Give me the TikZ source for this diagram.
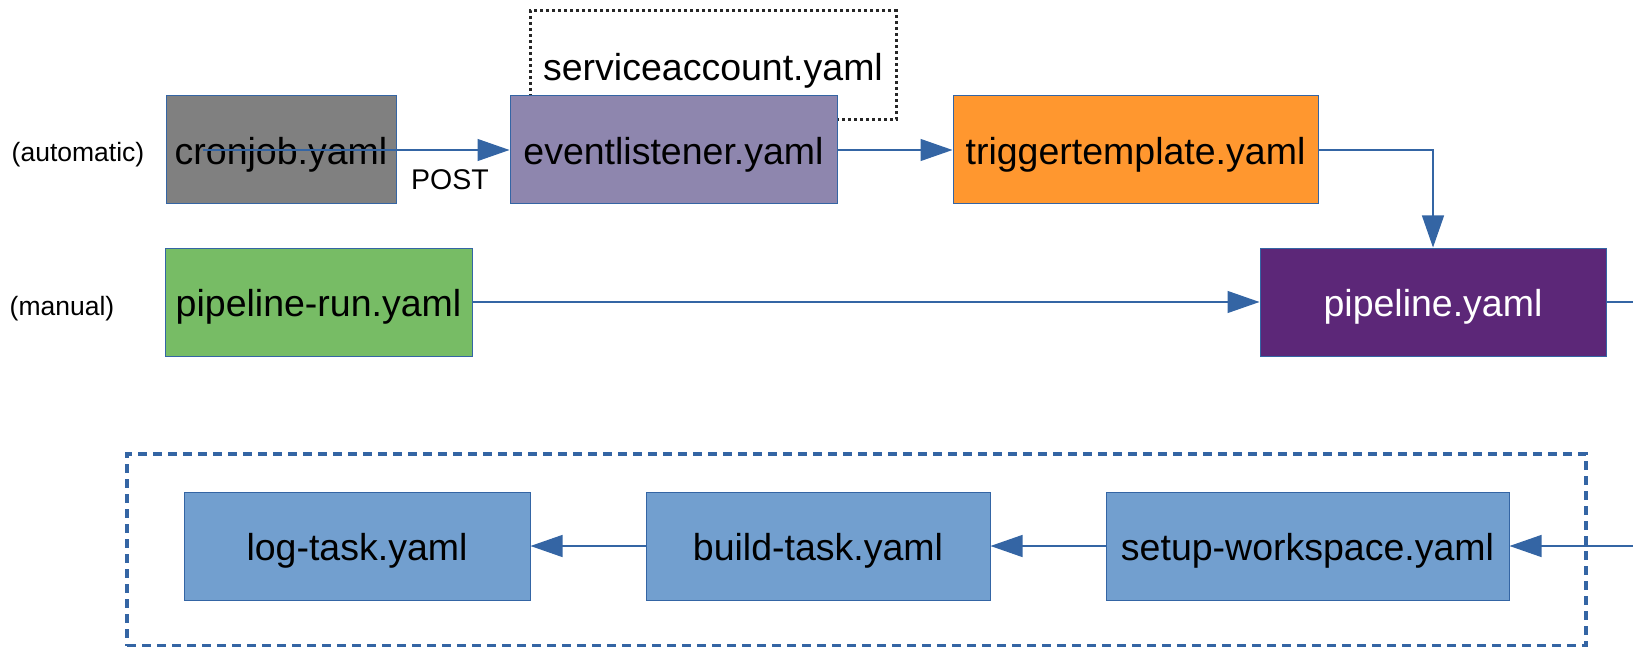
\documentclass[tikz,border=0pt]{standalone}
\usepackage{fontspec}
\setmainfont{Liberation Sans}
\usetikzlibrary{arrows.meta}
\definecolor{lineblue}{HTML}{3465A4}
\definecolor{cronfill}{HTML}{808080}
\definecolor{eventfill}{HTML}{8E86AE}
\definecolor{triggerfill}{HTML}{FF972F}
\definecolor{runfill}{HTML}{77BC65}
\definecolor{pipefill}{HTML}{5C2778}
\definecolor{taskfill}{HTML}{729FCF}
\tikzset{
  bigtext/.style={font=\fontsize{37.5}{40}\selectfont, text height=36.4pt, text depth=8pt},
  filebox/.style={bigtext, draw=lineblue, line width=1pt, inner sep=0pt, text=black},
  sidelabel/.style={font=\fontsize{26.5}{30}\selectfont, inner sep=0pt},
  flow/.style={draw=lineblue, line width=1.2pt,
    -{Triangle[length=32pt, width=22pt]}},
}
\begin{document}
\begin{tikzpicture}[x=1pt, y=-1pt]
\useasboundingbox (0,0) rectangle (1633,647);
\clip (0,0) rectangle (1633,647);

% service account, partly behind the event listener
\node[draw=black!85, line width=3pt, dash pattern=on 3pt off 3pt,
  minimum width=366pt, minimum height=109pt, inner sep=0pt] (sa) at (713,65.5) {};
\node[bigtext, inner sep=0pt] (satext) at (713,66) {serviceaccount.yaml};

% task group frame
\node[draw=lineblue, line width=3.5pt, dash pattern=on 9pt off 6pt,
  minimum width=1459pt, minimum height=192pt, inner sep=0pt] (tasks) at (856.5,550) {};

% files
\node[filebox, fill=cronfill, minimum width=230pt, minimum height=108pt] (cron) at (281,150) {cronjob.yaml};
\node[filebox, fill=eventfill, minimum width=327pt, minimum height=108pt] (event) at (673.5,150) {eventlistener.yaml};
\node[filebox, fill=triggerfill, minimum width=365pt, minimum height=108pt] (trigger) at (1135.5,150) {triggertemplate.yaml};
\node[filebox, fill=runfill, minimum width=307pt, minimum height=108pt] (run) at (318.5,302) {pipeline-run.yaml};
\node[filebox, fill=pipefill, text=white, minimum width=346pt, minimum height=108pt] (pipe) at (1433,302) {pipeline.yaml};
\node[filebox, fill=taskfill, minimum width=346pt, minimum height=108pt] (log) at (357,546) {log-task.yaml};
\node[filebox, fill=taskfill, minimum width=344pt, minimum height=108pt] (build) at (818,546) {build-task.yaml};
\node[filebox, fill=taskfill, minimum width=403pt, minimum height=108pt] (setup) at (1307.5,546) {setup-workspace.yaml};

% side labels
\node[sidelabel] (auto) at (78,155) {(automatic)};
\node[sidelabel] (manual) at (62,309) {(manual)};

% connectors
\coordinate (cronstart) at (203,150);
\draw[flow] (cronstart) -- (event.west);
\node[sidelabel, font=\fontsize{28.5}{30}\selectfont] (post) at (450,180) {POST};
\draw[flow] (event.east) -- (trigger.west);
\coordinate (tbend) at (1433,150);
\draw[flow] (trigger.east) -- (tbend) -- (pipe.north);
\draw[flow] (run.east) -- (pipe.west);
\coordinate (out1) at (1680,302);
\coordinate (out2) at (1680,546);
\draw[flow] (pipe.east) -- (out1) -- (out2) -- (setup.east);
\draw[flow] (setup.west) -- (build.east);
\draw[flow] (build.west) -- (log.east);
\end{tikzpicture}
\end{document}
